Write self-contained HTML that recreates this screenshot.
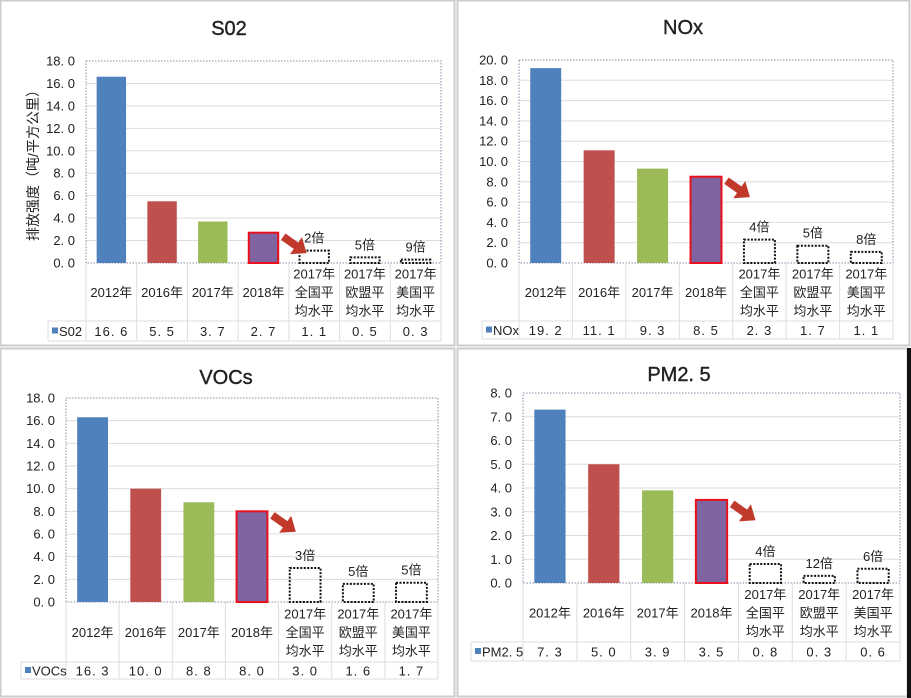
<!DOCTYPE html>
<html><head><meta charset="utf-8"><style>
html,body{margin:0;padding:0;background:#fff}
svg{display:block}
text{font-family:"Liberation Sans","Noto Sans CJK SC",sans-serif;fill:#222}
</style></head><body>
<svg id="s" width="911" height="698" xmlns="http://www.w3.org/2000/svg"></svg>
<script>
const s=document.getElementById('s');let h='';
h+='<rect x="0.5" y="0.5" width="454" height="345" fill="none" stroke="#ccc" stroke-width="2"/>';
h+='<rect x="457.5" y="0.5" width="452" height="345" fill="none" stroke="#ccc" stroke-width="2"/>';
h+='<rect x="0.5" y="348.5" width="454" height="348" fill="none" stroke="#ccc" stroke-width="2"/>';
h+='<rect x="457.5" y="348.5" width="450" height="348" fill="none" stroke="#ccc" stroke-width="2"/>';
h+='<rect x="907" y="348" width="4" height="350" fill="#111"/>';
const cats=['2012年','2016年','2017年','2018年',['2017年','全国平','均水平'],['2017年','欧盟平','均水平'],['2017年','美国平','均水平']];
const cols=['#4f81bd','#c0504d','#9bbb59','#8064a2'];
function panel(p){
 const {x0,x1,top,bot,tb,tt,lx,max,step,vals,mult,title,tx,ty,name}=p;
 const cw=(x1-x0)/7, sc=(bot-top)/max;
 h+=`<text x="${tx}" y="${ty}" font-size="20" text-anchor="middle" stroke="#222" stroke-width="0.4">${title}</text>`;
 for(let v=0;v<=max+1e-9;v+=step){const y=bot-v*sc;
  if(v>0&&v<max-1e-9)h+=`<line x1="${x0}" x2="${x1}" y1="${y}" y2="${y}" stroke="#ddd"/>`;
  h+=`<text x="${x0-11}" y="${y+4.5}" font-size="13" text-anchor="end">${v.toFixed(1).replace('.','. ')}</text>`;}
 h+=`<rect x="${x0}" y="${top}" width="${x1-x0}" height="${bot-top}" fill="none" stroke="#8a8aa8" stroke-dasharray="1.5,1.5"/>`;
 for(let i=0;i<=7;i++){const x=x0+i*cw;h+=`<line x1="${x}" x2="${x}" y1="${bot}" y2="${tb}" stroke="#ddd"/>`;}
 h+=`<line x1="${lx}" x2="${lx}" y1="${tt}" y2="${tb}" stroke="#ddd"/>`;
 h+=`<line x1="${lx}" x2="${x1}" y1="${tt}" y2="${tt}" stroke="#ddd"/><line x1="${lx}" x2="${x1}" y1="${tb}" y2="${tb}" stroke="#ddd"/>`;
 h+=`<rect x="${lx+4}" y="${(tt+tb)/2-3.5}" width="6" height="6" fill="#4f81bd"/>`;
 h+=`<text x="${lx+11}" y="${(tt+tb)/2+5}" font-size="13">${name}</text>`;
 const bw=cw*0.58;
 vals.forEach((v,i)=>{const cx=x0+cw*(i+0.5);const y=bot-v*sc;
  if(i<4){h+=`<rect x="${cx-bw/2}" y="${y}" width="${bw}" height="${v*sc}" fill="${cols[i]}" ${i==3?'stroke="#e8101a" stroke-width="2"':''}/>`;}
  else{h+=`<rect x="${cx-bw/2}" y="${y}" width="${bw}" height="${v*sc}" fill="none" stroke="#111" stroke-width="2" stroke-dasharray="2,1.5"/>`;
   h+=`<text x="${cx}" y="${y-8}" font-size="13" text-anchor="middle">${mult[i-4]}</text>`;}
  const c=cats[i];const my=(bot+tt)/2;
  if(typeof c=='string')h+=`<text x="${cx}" y="${my+5}" font-size="13" text-anchor="middle">${c}</text>`;
  else c.forEach((t,j)=>h+=`<text x="${cx}" y="${my+5+(j-1)*18.5}" font-size="13" text-anchor="middle">${t}</text>`);
  h+=`<text x="${cx}" y="${(tt+tb)/2+5}" font-size="13" text-anchor="middle" letter-spacing="1">${v.toFixed(1).replace('.','. ')}</text>`;
 });
 const ax=x0+cw*3.5+bw/2+5, ay=bot-vals[3]*sc+4;
 h+=`<g transform="translate(${ax},${ay}) rotate(35) scale(1.3)"><polygon points="0,-3 12,-3 12,-8 22,0 12,8 12,3 0,3" fill="#c0392b"/></g>`;
}
panel({x0:86,x1:441,top:61,bot:263,tt:321,tb:341,lx:48,max:18,step:2,vals:[16.6,5.5,3.7,2.7,1.1,0.5,0.3],mult:['2倍','5倍','9倍'],title:'S02',tx:229,ty:35,name:'S02'});
panel({x0:519,x1:893,top:60,bot:263,tt:321,tb:339,lx:482,max:20,step:2,vals:[19.2,11.1,9.3,8.5,2.3,1.7,1.1],mult:['4倍','5倍','8倍'],title:'NOx',tx:683,ty:34,name:'NOx'});
panel({x0:66,x1:438,top:398,bot:602,tt:662,tb:679,lx:21,max:18,step:2,vals:[16.3,10.0,8.8,8.0,3.0,1.6,1.7],mult:['3倍','5倍','5倍'],title:'VOCs',tx:226,ty:384,name:'VOCs'});
panel({x0:523,x1:900,top:393,bot:583,tt:642,tb:661,lx:471,max:8,step:1,vals:[7.3,5.0,3.9,3.5,0.8,0.3,0.6],mult:['4倍','12倍','6倍'],title:'PM2. 5',tx:679,ty:381,name:'PM2. 5'});
h+='<text transform="translate(38,162) rotate(-90)" font-size="14" text-anchor="middle">排放强度（吨/平方公里）</text>';
s.innerHTML=h;
</script>
</body></html>
